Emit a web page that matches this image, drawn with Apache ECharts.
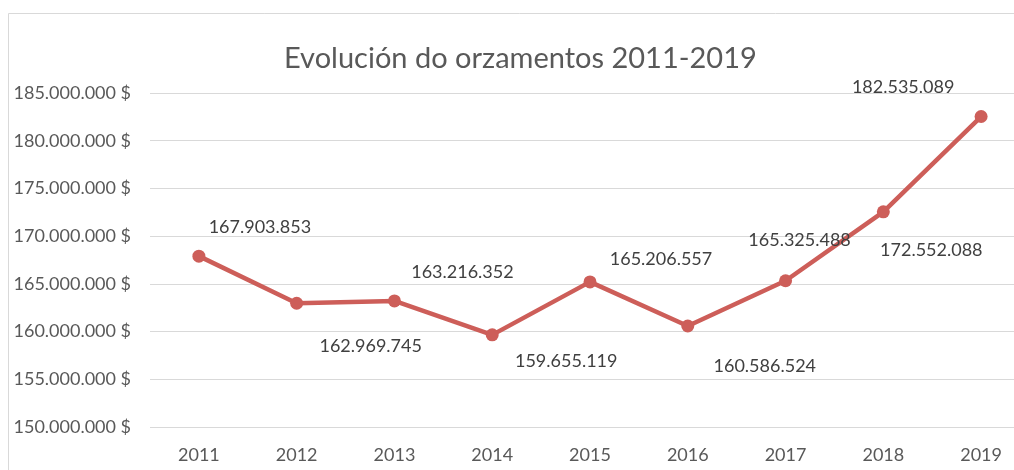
<!DOCTYPE html>
<html><head><meta charset="utf-8">
<script src="https://cdn.jsdelivr.net/npm/echarts@6/dist/echarts.min.js"></script>
<style>html,body{margin:0;padding:0;background:#fff;overflow:hidden;width:1014px;height:470px}#c{width:1030px;height:470px}</style>
</head><body><div id="c"></div>
<script>
var years = ['2011','2012','2013','2014','2015','2016','2017','2018','2019'];
var budget = [167903853,162969745,163216352,159655119,165206557,160586524,165325488,172552088,182535089];
var yTicksMin = 150000000, yTicksMax = 185000000, yTickStep = 5000000;

var labelOffsets = [[61,-29],[74,43],[68,-29],[74,26],[71,-23],[77,40],[14,-41],[48,38],[-78,-29]];
var FONT = 'Lato, "Open Sans", sans-serif';
function fmt(v){ return String(Math.round(v)).replace(/\B(?=(\d{3})+(?!\d))/g,'.'); }

var chart = echarts.init(document.getElementById('c'), null, {renderer:'canvas'});
chart.setOption({
  animation:false,
  backgroundColor:'#fff',
  graphic:[{type:'rect',shape:{x:8.5,y:13.5,width:1040,height:480},style:{fill:'none',stroke:'#D9D9D9',lineWidth:1},z:-1}],
  title:{text:'Evolución do orzamentos 2011-2019',left:279,top:39,
    textStyle:{fontFamily:FONT,fontSize:29,fontWeight:'normal',color:'#595959'}},
  grid:{left:150,top:93,right:0,bottom:43,containLabel:false},
  xAxis:{type:'category',data:years,boundaryGap:true,
    axisLine:{show:false},axisTick:{show:false},
    axisLabel:{fontFamily:FONT,fontSize:18,color:'#595959',margin:19}},
  yAxis:{type:'value',min:yTicksMin,max:yTicksMax,interval:yTickStep,
    axisLine:{show:false},axisTick:{show:false},
    splitLine:{lineStyle:{color:'#D9D9D9',width:1}},
    axisLabel:{fontFamily:FONT,fontSize:18,color:'#595959',margin:19,
      formatter:function(v){return fmt(v)+' $';}}},
  series:[{type:'line',
    data:budget.map(function(v,i){return {value:v,label:{offset:labelOffsets[i]}};}),
    symbol:'circle',symbolSize:13,
    lineStyle:{color:'#CD5E59',width:4.5},
    itemStyle:{color:'#CD5E59'},
    label:{show:true,position:'inside',fontFamily:FONT,fontSize:18,color:'#404040',
      formatter:function(p){return fmt(p.value);}}
  }]
});
</script></body></html>
